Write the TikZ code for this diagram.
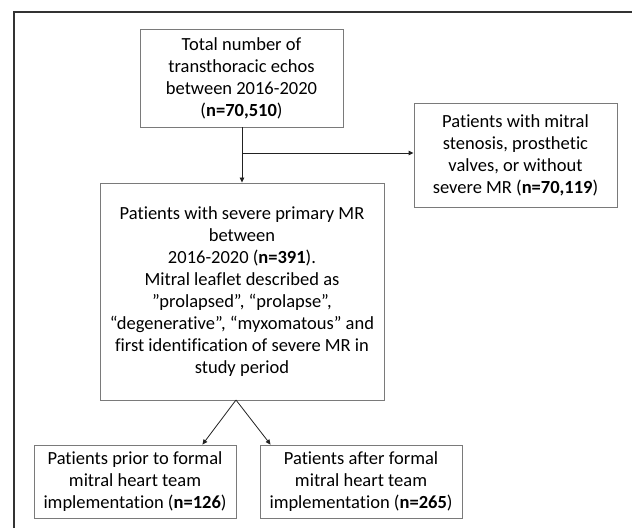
\documentclass[tikz,border=0pt]{standalone}
\usepackage{fontspec}
\setmainfont{Carlito}[Ligatures={NoCommon,TeX}]
\usetikzlibrary{arrows.meta}
\definecolor{boxgray}{HTML}{7A7A7A}
\definecolor{framegray}{HTML}{333333}
\definecolor{arrgray}{HTML}{222222}
\begin{document}
\begin{tikzpicture}[x=1pt,y=-1pt,
  box/.style={draw=boxgray, line width=0.9pt, align=center, inner sep=0pt,
    font=\fontsize{18.5}{22}\selectfont, text=black},
  arr/.style={draw=arrgray, line width=0.8pt, -{Triangle[length=5pt,width=4.5pt]}}]
\useasboundingbox (0,0) rectangle (632,528);
\fill[white] (0,0) rectangle (632,528);
\draw[framegray, line width=2pt] (14,528) -- (14,12) -- (632,12);

\node[box, minimum width=203pt, minimum height=98pt] (top) at (241.5,78)
  {Total number of\\transthoracic echos\\between 2016-2020\\(\textbf{n=70,510})};
\node[box, minimum width=203pt, minimum height=104pt] (excl) at (515.5,155)
  {Patients with mitral\\stenosis, prosthetic\\valves, or without\\severe MR (\textbf{n=70,119})};
\node[box, minimum width=284pt, minimum height=217pt] (mid) at (242,291.5)
  {Patients with severe primary MR\\between\\2016-2020 (\textbf{n=391}).\\Mitral leaflet described as\\”prolapsed”, “prolapse”,\\“degenerative”, “myxomatous” and\\first identification of severe MR in\\study period};
\node[box, minimum width=202pt, minimum height=73pt] (bl) at (135,481.5)
  {Patients prior to formal\\mitral heart team\\implementation (\textbf{n=126})};
\node[box, minimum width=202pt, minimum height=73pt] (brt) at (361,481.5)
  {Patients after formal\\mitral heart team\\implementation (\textbf{n=265})};

\coordinate (branch) at (242,153);
\coordinate (apex) at (236,400);
\draw[arr] (top.south -| branch) -- (mid.north -| branch);
\draw[arr, line width=1pt] (branch) -- (branch -| excl.west);
\draw[arr] (apex) -- ([xshift=-34pt]bl.north east);
\draw[arr] (apex) -- ([xshift=11pt]brt.north west);
\end{tikzpicture}
\end{document}
